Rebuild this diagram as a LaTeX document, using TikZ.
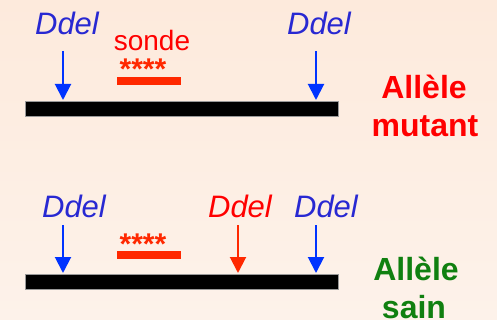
\documentclass[tikz,border=0pt]{standalone}
\usepackage{fontspec}
\setmainfont{Liberation Sans}
\usetikzlibrary{arrows.meta}
\definecolor{bgtop}{RGB}{253,234,220}
\definecolor{bgbot}{RGB}{253,242,234}
\definecolor{enzblue}{RGB}{40,40,210}
\definecolor{arrblue}{RGB}{0,51,255}
\definecolor{arrred}{RGB}{255,40,0}
\definecolor{txtred}{RGB}{255,0,0}
\definecolor{probered}{RGB}{255,40,0}
\definecolor{saingreen}{RGB}{16,128,16}
\tikzset{
  enz/.style={anchor=base, inner sep=0pt, font=\fontsize{31}{31}\selectfont\itshape},
  cut/.style={line width=2pt, -{Triangle[width=16pt,length=16pt]}},
  dna/.style={fill=black, draw=black!40!white, line width=0.4pt},
  probe/.style={fill=probered, draw=none},
  stars/.style={anchor=base, inner sep=0pt, text=probered, font=\fontsize{30}{30}\selectfont\bfseries},
  allele/.style={anchor=base, inner sep=0pt, font=\fontsize{32}{32}\selectfont\bfseries}
}
\begin{document}
\begin{tikzpicture}[x=1pt,y=-1pt]
\useasboundingbox (0,0) rectangle (497,320);
\shade[top color=bgtop, bottom color=bgbot] (0,0) rectangle (497,320);
% ---- mutant allele ----
\path[dna] (25,101) rectangle (338,116);
\coordinate (m1s) at (63,51); \coordinate (m1e) at (63,100);
\coordinate (m2s) at (316,51); \coordinate (m2e) at (316,100);
\draw[cut, arrblue] (m1s) -- (m1e);
\draw[cut, arrblue] (m2s) -- (m2e);
\node[enz, text=enzblue] (dm1) at (67,35) {Ddel};
\node[enz, text=enzblue] (dm2) at (319,35) {Ddel};
\node[anchor=base, inner sep=0pt, text=txtred, font=\fontsize{28}{28}\selectfont] (sonde) at (152,51) {sonde};
\node[stars] (st1) at (143,80) {****};
\path[probe] (117,77) rectangle (181,85);
\node[allele, text=txtred] (am1) at (424,99) {Allèle};
\node[allele, text=txtred] (am2) at (425,137) {mutant};
% ---- healthy allele ----
\path[dna] (25,274) rectangle (338,289);
\coordinate (s1s) at (63,225); \coordinate (s1e) at (63,273);
\coordinate (s2s) at (238,225); \coordinate (s2e) at (238,273);
\coordinate (s3s) at (316,225); \coordinate (s3e) at (316,273);
\draw[cut, arrblue] (s1s) -- (s1e);
\draw[cut, arrred] (s2s) -- (s2e);
\draw[cut, arrblue] (s3s) -- (s3e);
\node[enz, text=enzblue] (ds1) at (74,217) {Ddel};
\node[enz, text=txtred] (ds2) at (240,217) {Ddel};
\node[enz, text=enzblue] (ds3) at (326,217) {Ddel};
\node[stars] (st2) at (143,254) {****};
\path[probe] (117,251) rectangle (181,259);
\node[allele, text=saingreen] (as1) at (416,280) {Allèle};
\node[allele, text=saingreen] (as2) at (414,318) {sain};
\end{tikzpicture}
\end{document}
